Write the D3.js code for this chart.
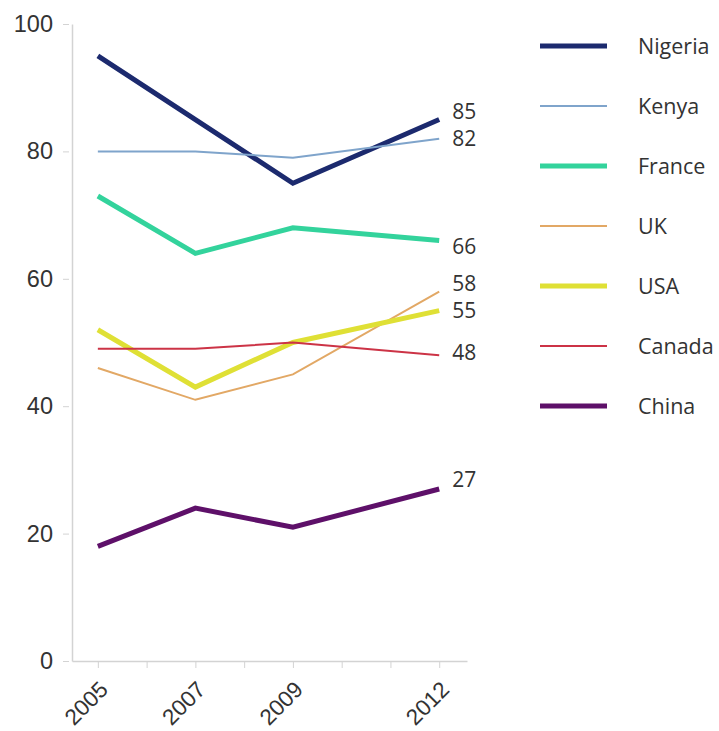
<!DOCTYPE html>
<html>
<head>
<meta charset="utf-8">
<script src="https://cdn.jsdelivr.net/npm/d3@7"></script>
<style>
  html, body { margin: 0; padding: 0; background: #fff; }
  svg { display: block; font-family: "Open Sans", "DejaVu Sans", sans-serif; }
</style>
</head>
<body>
<svg id="chart" width="719" height="731"></svg>
<script>
// Survey years and per-country values
const years = [2005, 2007, 2009, 2012];
const countries = ["Nigeria", "Kenya", "France", "UK", "USA", "Canada", "China"];
const nigeria = [95, 85, 75, 85];
const kenya   = [80, 80, 79, 82];
const france  = [73, 64, 68, 66];
const uk      = [46, 41, 45, 58];
const usa     = [52, 43, 50, 55];
const canada  = [49, 49, 50, 48];
const china   = [18, 24, 21, 27];
const yTickValues = [0, 20, 40, 60, 80, 100];
const xTickLabels = [2005, 2007, 2009, 2012];

const seriesValues = [nigeria, kenya, france, uk, usa, canada, china];
const colors = ["#1c2a6e", "#7fa4cb", "#33d39c", "#e2a865", "#dfe035", "#cc3346", "#5e1069"];
const widths = [5, 2, 5, 2, 5, 2, 5];
// vertical nudges for end labels so neighbouring numbers don't collide
const labelNudge = { Nigeria: -8, Kenya: 0, France: 6, UK: -8, USA: 0, Canada: -3, China: -9 };

const series = countries.map((name, i) => ({
  name,
  color: colors[i],
  width: widths[i],
  points: years.map((yr, j) => ({ year: yr, value: seriesValues[i][j] }))
}));

const svg = d3.select("#chart");
const axisColor = "#d3d3d3";
const textColor = "#333";

const x = d3.scaleLinear().domain([2004.47, 2012.57]).range([72, 467]);
const y = d3.scaleLinear().domain([0, 100]).range([661, 24]);

// Y axis
const yAxis = svg.append("g")
  .attr("transform", "translate(72,0)")
  .call(d3.axisLeft(y).tickValues(yTickValues).tickSizeInner(9).tickSizeOuter(0).tickPadding(10));
yAxis.select(".domain").attr("stroke", axisColor).attr("stroke-width", 1.5);
yAxis.selectAll(".tick line").attr("stroke", axisColor).attr("x1", -3);
yAxis.selectAll(".tick text")
  .attr("fill", textColor).style("font-size", "23.5px");

// X axis: a tick every year, labels on survey years only
const xAxis = svg.append("g")
  .attr("transform", "translate(0,661)")
  .call(d3.axisBottom(x).tickValues(d3.range(2005, 2013)).tickSizeInner(7).tickSizeOuter(0)
    .tickFormat(d => xTickLabels.includes(d) ? String(d) : ""));
xAxis.select(".domain").attr("stroke", axisColor).attr("stroke-width", 1.5);
xAxis.selectAll(".tick line").attr("stroke", axisColor);
xAxis.selectAll(".tick text")
  .attr("fill", textColor).style("font-size", "22.5px")
  .attr("text-anchor", "end")
  .attr("y", 0).attr("dy", 0)
  .attr("transform", "translate(11,30) rotate(-45)");

// Lines
const line = d3.line().x(d => x(d.year)).y(d => y(d.value));
svg.append("g").selectAll("path")
  .data(series)
  .join("path")
  .attr("d", d => line(d.points))
  .attr("fill", "none")
  .attr("stroke", d => d.color)
  .attr("stroke-width", d => d.width)
  .attr("stroke-linejoin", "miter")
  .attr("stroke-linecap", "butt");

// End-of-line value labels
svg.append("g").selectAll("text")
  .data(series)
  .join("text")
  .attr("x", d => x(years[years.length - 1]) + 13)
  .attr("y", d => y(d.points[d.points.length - 1].value) + labelNudge[d.name])
  .attr("dy", "0.35em")
  .attr("fill", textColor)
  .style("font-size", "21px")
  .text(d => d.points[d.points.length - 1].value);

// Legend
const legend = svg.append("g").selectAll("g")
  .data(series)
  .join("g")
  .attr("transform", (d, i) => `translate(540,${46 + i * 60})`);
legend.append("line")
  .attr("x1", 0).attr("x2", 67)
  .attr("stroke", d => d.color)
  .attr("stroke-width", d => d.width);
legend.append("text")
  .attr("x", 98)
  .attr("dy", "0.35em")
  .attr("fill", textColor)
  .style("font-size", "21.5px")
  .text(d => d.name);
</script>
</body>
</html>
